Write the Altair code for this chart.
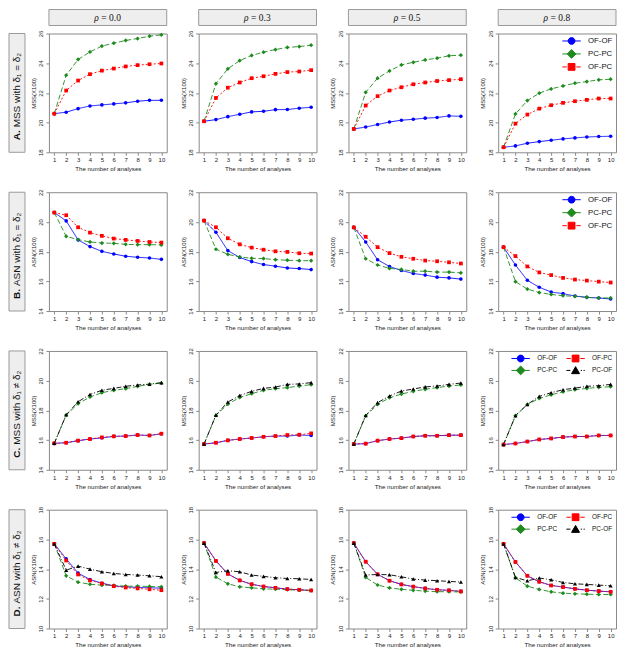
import altair as alt
import pandas as pd

# ---------------- data ----------------
analyses = [1, 2, 3, 4, 5, 6, 7, 8, 9, 10]
rho_symbol = "ρ"
rho_values = ["= 0.0", "= 0.3", "= 0.5", "= 0.8"]
row_letters = ["A.", "B.", "C.", "D."]
row_texts = ["MSS with δ₁ = δ₂", "ASN with δ₁ = δ₂", "MSS with δ₁ ≠ δ₂", "ASN with δ₁ ≠ δ₂"]
row_ytitles = ["MSS(X100)", "ASN(X100)", "MSS(X100)", "ASN(X100)"]
row_yticks = [[18, 20, 22, 24, 26], [14, 16, 18, 20, 22], [14, 16, 18, 20, 22], [10, 12, 14, 16, 18]]
x_title = "The number of analyses"

series_names = ["OF-OF", "PC-PC", "OF-PC", "PC-OF"]
series_colors = ["#0000FF", "#1F8A1F", "#FF0000", "#000000"]
legend_order_3 = ["OF-OF", "PC-PC", "OF-PC"]
legend_order_4 = ["OF-OF", "PC-PC", "OF-PC", "PC-OF"]  # laid out column by column

# A. MSS with d1 = d2
a_r0_ofof = [20.60, 20.70, 20.94, 21.12, 21.19, 21.26, 21.33, 21.44, 21.50, 21.50]
a_r0_pcpc = [20.60, 23.19, 24.25, 24.76, 25.15, 25.35, 25.53, 25.66, 25.82, 25.91]
a_r0_ofpc = [20.60, 22.16, 22.83, 23.26, 23.50, 23.64, 23.78, 23.87, 23.93, 23.98]
a_r3_ofof = [20.09, 20.20, 20.40, 20.56, 20.72, 20.76, 20.87, 20.88, 20.97, 21.03]
a_r3_pcpc = [20.09, 22.62, 23.62, 24.18, 24.52, 24.74, 24.92, 25.06, 25.12, 25.21]
a_r3_ofpc = [20.09, 21.66, 22.35, 22.70, 22.99, 23.12, 23.28, 23.40, 23.44, 23.53]
a_r5_ofof = [19.57, 19.70, 19.87, 20.04, 20.16, 20.22, 20.30, 20.34, 20.45, 20.42]
a_r5_pcpc = [19.57, 22.04, 22.99, 23.48, 23.88, 24.06, 24.22, 24.34, 24.50, 24.54]
a_r5_ofpc = [19.57, 21.15, 21.78, 22.16, 22.38, 22.58, 22.70, 22.80, 22.86, 22.92]
a_r8_ofof = [18.34, 18.43, 18.61, 18.72, 18.81, 18.90, 18.97, 19.03, 19.06, 19.08]
a_r8_pcpc = [18.34, 20.58, 21.48, 21.98, 22.27, 22.47, 22.65, 22.76, 22.88, 22.92]
a_r8_ofpc = [18.34, 19.93, 20.54, 20.94, 21.17, 21.33, 21.44, 21.53, 21.62, 21.62]

# B. ASN with d1 = d2
b_r0_ofof = [20.63, 20.07, 18.79, 18.34, 18.02, 17.84, 17.69, 17.62, 17.57, 17.48]
b_r0_pcpc = [20.63, 19.03, 18.81, 18.65, 18.58, 18.56, 18.49, 18.47, 18.47, 18.45]
b_r0_ofpc = [20.63, 20.45, 19.64, 19.28, 19.06, 18.88, 18.79, 18.72, 18.65, 18.61]
b_r3_ofof = [20.09, 19.30, 18.07, 17.60, 17.33, 17.13, 17.02, 16.90, 16.86, 16.79]
b_r3_pcpc = [20.09, 18.16, 17.82, 17.64, 17.55, 17.53, 17.46, 17.42, 17.39, 17.39]
b_r3_ofpc = [20.09, 19.64, 18.90, 18.49, 18.27, 18.13, 18.02, 17.98, 17.89, 17.87]
b_r5_ofof = [19.63, 18.65, 17.45, 17.00, 16.73, 16.53, 16.42, 16.28, 16.23, 16.15]
b_r5_pcpc = [19.63, 17.52, 17.10, 16.87, 16.80, 16.68, 16.68, 16.62, 16.62, 16.57]
b_r5_ofpc = [19.63, 19.00, 18.30, 17.90, 17.65, 17.52, 17.40, 17.35, 17.28, 17.20]
b_r8_ofof = [18.30, 17.10, 16.07, 15.60, 15.28, 15.17, 15.01, 14.92, 14.88, 14.81]
b_r8_pcpc = [18.30, 15.98, 15.48, 15.24, 15.12, 15.03, 14.99, 14.92, 14.88, 14.88]
b_r8_ofpc = [18.30, 17.70, 17.00, 16.60, 16.42, 16.23, 16.12, 16.05, 15.98, 15.92]

# C. MSS with d1 != d2
c_r0_ofof = [15.78, 15.82, 15.96, 16.07, 16.15, 16.25, 16.27, 16.34, 16.31, 16.42]
c_r0_pcpc = [15.78, 17.68, 18.45, 18.90, 19.19, 19.35, 19.46, 19.62, 19.76, 19.83]
c_r0_ofpc = [15.78, 15.82, 15.96, 16.07, 16.18, 16.25, 16.27, 16.34, 16.31, 16.43]
c_r0_pcof = [15.78, 17.70, 18.58, 19.07, 19.35, 19.48, 19.62, 19.71, 19.76, 19.87]
c_r3_ofof = [15.73, 15.82, 15.98, 16.07, 16.14, 16.22, 16.27, 16.27, 16.34, 16.31]
c_r3_pcpc = [15.73, 17.66, 18.42, 18.87, 19.12, 19.35, 19.46, 19.53, 19.64, 19.73]
c_r3_ofpc = [15.73, 15.82, 15.98, 16.07, 16.14, 16.22, 16.27, 16.34, 16.36, 16.45]
c_r3_pcof = [15.73, 17.68, 18.56, 19.00, 19.28, 19.48, 19.57, 19.75, 19.78, 19.87]
c_r5_ofof = [15.73, 15.76, 15.96, 16.07, 16.13, 16.24, 16.29, 16.29, 16.33, 16.33]
c_r5_pcpc = [15.73, 17.63, 18.40, 18.85, 19.10, 19.28, 19.42, 19.53, 19.64, 19.71]
c_r5_ofpc = [15.73, 15.76, 15.96, 16.07, 16.13, 16.24, 16.29, 16.29, 16.33, 16.33]
c_r5_pcof = [15.73, 17.66, 18.52, 18.97, 19.30, 19.44, 19.58, 19.64, 19.75, 19.84]
c_r8_ofof = [15.70, 15.77, 15.90, 16.04, 16.11, 16.20, 16.24, 16.24, 16.31, 16.31]
c_r8_pcpc = [15.70, 17.64, 18.40, 18.80, 19.05, 19.25, 19.39, 19.48, 19.55, 19.59]
c_r8_ofpc = [15.70, 15.77, 15.90, 16.04, 16.11, 16.20, 16.24, 16.24, 16.31, 16.31]
c_r8_pcof = [15.70, 17.64, 18.40, 18.94, 19.19, 19.39, 19.50, 19.62, 19.66, 19.75]

# D. ASN with d1 != d2
d_r0_ofof = [15.70, 14.69, 13.73, 13.30, 13.05, 12.87, 12.80, 12.77, 12.74, 12.72]
d_r0_pcpc = [15.70, 13.55, 13.12, 12.98, 12.92, 12.90, 12.85, 12.85, 12.83, 12.81]
d_r0_ofpc = [15.70, 14.58, 13.64, 13.24, 13.03, 12.85, 12.76, 12.70, 12.64, 12.58]
d_r0_pcof = [15.70, 13.93, 14.20, 14.00, 13.82, 13.71, 13.64, 13.60, 13.55, 13.49]
d_r3_ofof = [15.75, 14.55, 13.68, 13.24, 12.98, 12.83, 12.74, 12.65, 12.61, 12.56]
d_r3_pcpc = [15.75, 13.46, 13.01, 12.81, 12.74, 12.67, 12.65, 12.61, 12.58, 12.56]
d_r3_ofpc = [15.75, 14.55, 13.68, 13.24, 12.98, 12.83, 12.74, 12.65, 12.61, 12.56]
d_r3_pcof = [15.75, 13.77, 13.89, 13.82, 13.60, 13.51, 13.42, 13.37, 13.35, 13.30]
d_r5_ofof = [15.75, 14.50, 13.65, 13.22, 12.97, 12.82, 12.70, 12.61, 12.57, 12.50]
d_r5_pcpc = [15.75, 13.44, 12.93, 12.73, 12.64, 12.57, 12.52, 12.48, 12.48, 12.46]
d_r5_ofpc = [15.75, 14.50, 13.65, 13.22, 12.97, 12.82, 12.70, 12.61, 12.57, 12.50]
d_r5_pcof = [15.75, 13.60, 13.64, 13.62, 13.48, 13.33, 13.26, 13.22, 13.17, 13.13]
d_r8_ofof = [15.70, 14.48, 13.55, 13.15, 12.90, 12.79, 12.67, 12.58, 12.52, 12.47]
d_r8_pcpc = [15.70, 13.42, 12.85, 12.63, 12.47, 12.38, 12.34, 12.31, 12.29, 12.29]
d_r8_ofpc = [15.70, 14.48, 13.55, 13.15, 12.90, 12.79, 12.67, 12.58, 12.52, 12.47]
d_r8_pcof = [15.70, 13.44, 13.21, 13.40, 13.28, 13.10, 13.01, 12.97, 12.92, 12.88]

grid = [
    [{"OF-OF": a_r0_ofof, "PC-PC": a_r0_pcpc, "OF-PC": a_r0_ofpc},
     {"OF-OF": a_r3_ofof, "PC-PC": a_r3_pcpc, "OF-PC": a_r3_ofpc},
     {"OF-OF": a_r5_ofof, "PC-PC": a_r5_pcpc, "OF-PC": a_r5_ofpc},
     {"OF-OF": a_r8_ofof, "PC-PC": a_r8_pcpc, "OF-PC": a_r8_ofpc}],
    [{"OF-OF": b_r0_ofof, "PC-PC": b_r0_pcpc, "OF-PC": b_r0_ofpc},
     {"OF-OF": b_r3_ofof, "PC-PC": b_r3_pcpc, "OF-PC": b_r3_ofpc},
     {"OF-OF": b_r5_ofof, "PC-PC": b_r5_pcpc, "OF-PC": b_r5_ofpc},
     {"OF-OF": b_r8_ofof, "PC-PC": b_r8_pcpc, "OF-PC": b_r8_ofpc}],
    [{"OF-OF": c_r0_ofof, "PC-PC": c_r0_pcpc, "OF-PC": c_r0_ofpc, "PC-OF": c_r0_pcof},
     {"OF-OF": c_r3_ofof, "PC-PC": c_r3_pcpc, "OF-PC": c_r3_ofpc, "PC-OF": c_r3_pcof},
     {"OF-OF": c_r5_ofof, "PC-PC": c_r5_pcpc, "OF-PC": c_r5_ofpc, "PC-OF": c_r5_pcof},
     {"OF-OF": c_r8_ofof, "PC-PC": c_r8_pcpc, "OF-PC": c_r8_ofpc, "PC-OF": c_r8_pcof}],
    [{"OF-OF": d_r0_ofof, "PC-PC": d_r0_pcpc, "OF-PC": d_r0_ofpc, "PC-OF": d_r0_pcof},
     {"OF-OF": d_r3_ofof, "PC-PC": d_r3_pcpc, "OF-PC": d_r3_ofpc, "PC-OF": d_r3_pcof},
     {"OF-OF": d_r5_ofof, "PC-PC": d_r5_pcpc, "OF-PC": d_r5_ofpc, "PC-OF": d_r5_pcof},
     {"OF-OF": d_r8_ofof, "PC-PC": d_r8_pcpc, "OF-PC": d_r8_ofpc, "PC-OF": d_r8_pcof}],
]

# ---------------- styles ----------------
W, H = 118, 119
SANS = "Liberation Sans, DejaVu Sans, sans-serif"
SERIF = "Liberation Serif, DejaVu Serif, serif"
FRAME = "#8a8a8a"
BOXFILL = "#EEEEEE"
BOXSTROKE = "#9a9a9a"
dashes = [[1, 0], [5, 2.5], [2, 2], [5, 2, 1, 2]]
shape_of = {"OF-OF": "circle", "PC-PC": "diamond", "OF-PC": "square", "PC-OF": "triangle-up"}
size_of = {"OF-OF": 13, "PC-PC": 18, "OF-PC": 14, "PC-OF": 17}
legend_paths = {
    "OF-OF": "M-2.3,0H2.3M-0.85,0A0.85,0.85,0,1,1,0.85,0A0.85,0.85,0,1,1,-0.85,0Z",
    "PC-PC": "M-2.3,0H2.3M0,-1.1L1.1,0L0,1.1L-1.1,0Z",
    "OF-PC": "M-2.3,0H-1.2M1.2,0H2.3M-0.85,-0.85H0.85V0.85H-0.85Z",
    "PC-OF": "M-2.3,0H-1.3M1.3,0H1.6M2.0,0H2.3M0,-0.95L1,0.8L-1,0.8Z",
}
color_of = dict(zip(series_names, series_colors))


def make_panel(r, c, series):
    recs = []
    for name in series_names:
        if name in series:
            for n, v in zip(analyses, series[name]):
                recs.append({"n": n, "v": v, "s": name})
    df = pd.DataFrame(recs)
    ticks = row_yticks[r]
    xenc = alt.X("n:Q", scale=alt.Scale(domain=[0.55, 10.45], nice=False, zero=False),
                 axis=alt.Axis(values=analyses, title=x_title, grid=False, domain=False,
                               tickSize=3, tickColor=FRAME, labelFontSize=6, labelPadding=1.5,
                               labelFlush=False, labelOverlap=False, labelColor="#222222",
                               labelFont=SANS, titleFont=SANS, titleFontSize=6.2,
                               titleFontWeight="normal", titleColor="#222222", titlePadding=3))
    yenc = alt.Y("v:Q", scale=alt.Scale(domain=[ticks[0], ticks[-1]], nice=False, zero=False),
                 axis=alt.Axis(values=ticks, title=row_ytitles[r], grid=False, domain=False,
                               tickSize=3, tickColor=FRAME, labelAngle=270, labelAlign="center",
                               labelBaseline="bottom", labelFontSize=6, labelPadding=2,
                               labelFlush=False, labelOverlap=False, labelColor="#222222",
                               labelFont=SANS, titleFont=SANS, titleFontSize=6,
                               titleFontWeight="normal", titleColor="#222222", titlePadding=1.5))
    color = alt.Color("s:N", scale=alt.Scale(domain=series_names, range=series_colors), legend=None)
    lines = alt.Chart(df).mark_line(strokeWidth=0.9).encode(
        x=xenc, y=yenc, color=color,
        strokeDash=alt.StrokeDash("s:N", scale=alt.Scale(domain=series_names, range=dashes), legend=None))

    layers = []
    if r == 0:
        hdr = pd.DataFrame({"sym": [rho_symbol], "val": [rho_values[c]]})
        layers.append(alt.Chart(hdr).mark_rect(fill=BOXFILL, stroke=BOXSTROKE, strokeWidth=1).encode(
            x=alt.value(0), x2=alt.value(W), y=alt.value(-24), y2=alt.value(-8)))
        layers.append(alt.Chart(hdr).mark_text(font=SERIF, fontSize=9.5, fontStyle="italic",
                                               align="right", color="#111111").encode(
            text="sym:N", x=alt.value(50), y=alt.value(-16)))
        layers.append(alt.Chart(hdr).mark_text(font=SERIF, fontSize=9.5, align="left",
                                               color="#111111").encode(
            text="val:N", x=alt.value(52.5), y=alt.value(-16)))
    if c == 0:
        lab = pd.DataFrame({"a": [row_letters[r]], "b": [row_texts[r]]})
        layers.append(alt.Chart(lab).mark_rect(fill=BOXFILL, stroke=BOXSTROKE, strokeWidth=1).encode(
            x=alt.value(-40), x2=alt.value(-24), y=alt.value(0), y2=alt.value(H)))
        layers.append(alt.Chart(lab).mark_text(font=SANS, fontSize=10, fontWeight="bold", angle=270,
                                               align="right", color="#111111").encode(
            text="a:N", x=alt.value(-32), y=alt.value(97)))
        layers.append(alt.Chart(lab).mark_text(font=SANS, fontSize=10, angle=270,
                                               align="left", color="#111111").encode(
            text="b:N", x=alt.value(-32), y=alt.value(94)))
    layers.append(lines)
    for name in series_names:
        if name in series:
            layers.append(
                alt.Chart(df).transform_filter(alt.datum.s == name)
                .mark_point(filled=True, opacity=1, shape=shape_of[name], size=size_of[name])
                .encode(x=xenc, y=yenc, color=color)
            )
    if c == 3:
        order = legend_order_3 if r < 2 else legend_order_4
        ncol = 1 if r < 2 else 2
        fsize = 7.8 if r < 2 else 6.5
        rpad = 1 if r < 2 else 0
        lg = alt.Legend(orient="top-right", offset=2, padding=1, columns=ncol, columnPadding=6,
                        rowPadding=rpad, symbolSize=64, symbolStrokeWidth=1, symbolOffset=5,
                        labelOffset=12, labelFontSize=fsize, labelFont=SANS, labelColor="#111111",
                        labelLimit=200)
        leg = alt.Chart(df).mark_point(filled=True, opacity=1, strokeWidth=1).encode(
            x=xenc, y=yenc,
            fill=alt.Fill("s:N", title=None, legend=lg,
                          scale=alt.Scale(domain=order, range=[color_of[k] for k in order])),
            stroke=alt.Stroke("s:N", title=None, legend=lg,
                              scale=alt.Scale(domain=order, range=[color_of[k] for k in order])),
            shape=alt.Shape("s:N", title=None, legend=lg,
                            scale=alt.Scale(domain=order, range=[legend_paths[k] for k in order])),
        ).transform_filter("datum.n > 100")
        layers.append(leg)
    return alt.layer(*layers).properties(width=W, height=H)


panels = [make_panel(r, c, grid[r][c]) for r in range(4) for c in range(4)]

chart = alt.concat(*panels, columns=4, spacing={"row": 40, "column": 32}, bounds="flush").properties(
    padding=0, background="white"
).resolve_scale(
    fill="independent", stroke="independent", shape="independent"
).resolve_legend(
    fill="independent", stroke="independent", shape="independent"
).configure_view(stroke=FRAME, strokeWidth=1)

chart.save("out.html", embed_options={"renderer": "svg", "actions": False})
